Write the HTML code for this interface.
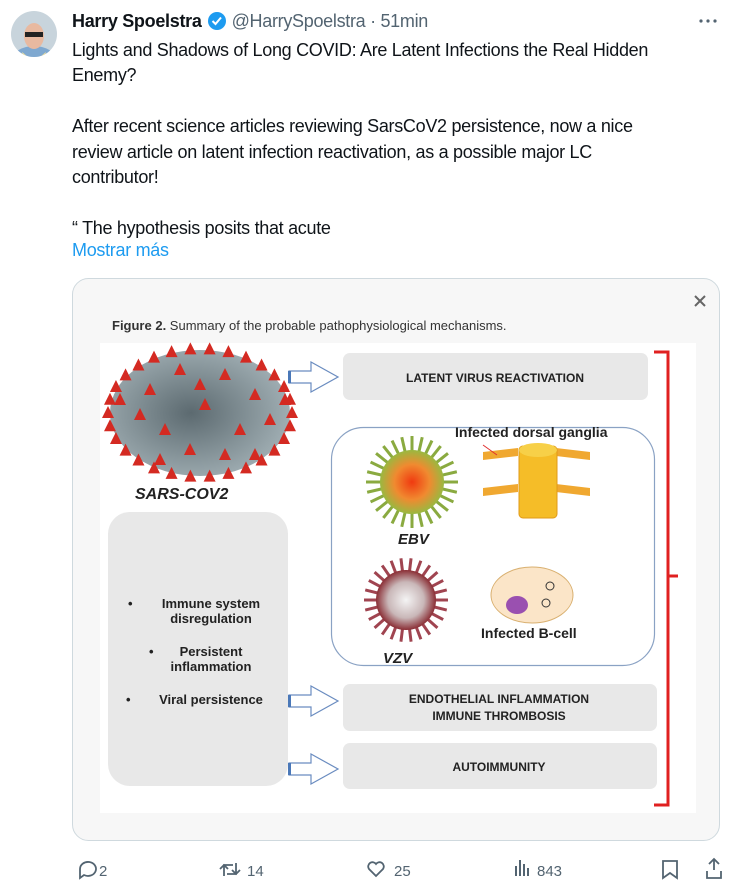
<!DOCTYPE html>
<html><head><meta charset="utf-8">
<style>
*{margin:0;padding:0;box-sizing:border-box}
body{width:750px;height:894px;background:#fff;font-family:"Liberation Sans",sans-serif;color:#0f1419;position:relative;overflow:hidden}
.a{position:absolute;white-space:nowrap}
.t{font-size:18px;letter-spacing:-0.3px;color:#0f1419}
.f{font-family:"Liberation Sans",sans-serif}
</style></head><body>
<svg class="a" style="left:0;top:0" width="750" height="894" viewBox="0 0 750 894">
<defs>
<clipPath id="av"><circle cx="34" cy="34" r="23"/></clipPath>
<radialGradient id="sg" cx="0.45" cy="0.5" r="0.6"><stop offset="0" stop-color="#5c6a70"/><stop offset="1" stop-color="#a5b3b8"/></radialGradient>
<radialGradient id="eg" cx="0.5" cy="0.5" r="0.5"><stop offset="0" stop-color="#f03a10"/><stop offset="0.55" stop-color="#f08a30"/><stop offset="1" stop-color="#9ab840"/></radialGradient>
<radialGradient id="vg" cx="0.5" cy="0.5" r="0.5"><stop offset="0" stop-color="#f4f4f4"/><stop offset="0.6" stop-color="#c9b7b8"/><stop offset="1" stop-color="#8a2e35"/></radialGradient>
</defs>
<g clip-path="url(#av)"><rect x="10" y="10" width="48" height="48" fill="#c8d4dc"/><ellipse cx="34" cy="60" rx="22" ry="14" fill="#7fa8d0"/><path d="M22 52 L34 62 L46 52 L44 58 L24 58Z" fill="#f2e09a"/><ellipse cx="34" cy="36" rx="10" ry="13" fill="#e8b9a0"/><rect x="25" y="32" width="18" height="5" fill="#222"/></g>
<rect x="72.5" y="278.5" width="647" height="562" rx="16" fill="#f7f7f7" stroke="#cfd9de"/>
<rect x="100" y="343" width="596" height="470" fill="#fff"/>
<ellipse cx="200" cy="413" rx="90" ry="63" fill="url(#sg)"/>
<g id="spk" fill="#d42a22"></g>
<rect x="108" y="512" width="180" height="274" rx="22" fill="#e8e8e8"/>
<rect x="343" y="353" width="305" height="47" rx="7" fill="#e8e8e8"/>
<rect x="343" y="684" width="314" height="47" rx="7" fill="#e8e8e8"/>
<rect x="343" y="743" width="314" height="46" rx="7" fill="#e8e8e8"/>
<rect x="331.5" y="427.5" width="323" height="238" rx="32" fill="#fff" stroke="#8aa2c4" stroke-width="1.2"/>
<g fill="#fff" stroke="#6a8cc0" stroke-width="1.2">
<path d="M289 371 h22 v-9 l27 15 l-27 15 v-9 h-22z"/>
<path d="M289 695 h22 v-9 l27 15 l-27 15 v-9 h-22z"/>
<path d="M289 763 h22 v-9 l27 15 l-27 15 v-9 h-22z"/>
</g>
<g fill="#4a78b8"><rect x="288" y="371" width="3" height="12"/><rect x="288" y="695" width="3" height="12"/><rect x="288" y="763" width="3" height="12"/></g>
<path d="M654 352 h14 v224 h10 M668 576 v229 h-14" fill="none" stroke="#e02020" stroke-width="3"/>
<g id="ebv"></g>
<circle cx="412" cy="482" r="32" fill="url(#eg)"/>
<g fill="#f0a830">
<path d="M483 452 l35 -4 l0 8 l-35 4z M483 488 l35 -4 l0 8 l-35 4z M556 448 l34 4 l0 8 l-34 -4z M556 484 l34 4 l0 8 l-34 -4z"/>
</g>
<rect x="519" y="446" width="38" height="72" rx="4" fill="#f5bd28" stroke="#e09a18"/>
<ellipse cx="538" cy="450" rx="19" ry="7" fill="#f7d048"/>
<line x1="483" y1="445" x2="497" y2="455" stroke="#e03030" stroke-width="1"/>
<g id="vzv"></g>
<circle cx="406" cy="600" r="30" fill="url(#vg)"/>
<ellipse cx="532" cy="595" rx="41" ry="28" fill="#fbe5c8" stroke="#d9b070"/>
<ellipse cx="517" cy="605" rx="11" ry="9" fill="#9a50b0"/>
<g stroke="#333" stroke-width="1" fill="none"><circle cx="550" cy="586" r="4"/><circle cx="546" cy="603" r="4"/></g>
<g fill="none" stroke="#536471" stroke-width="1.8">
<path d="M80 869 a8 7 0 1 1 4 6 l-4 3z"/>
<path d="M224 876 v-11 h9 M220 869 l4 -4 l4 4 M236 863 v11 h-9 M232 870 l4 4 l4 -4"/>
<path d="M376 876 l-7 -7 a4 4 0 0 1 7 -5 a4 4 0 0 1 7 5z"/>
<path d="M663 861 h14 v17 l-7 -5 l-7 5z"/>
<path d="M707 871 v7 h14 v-7 M714 870 v-10 M709 864 l5 -5 l5 5"/>
</g>
<g fill="#536471"><rect x="515" y="866" width="2" height="10"/><rect x="519" y="860" width="2" height="16"/><rect x="523" y="864" width="2" height="12"/><rect x="527" y="868" width="2" height="8"/>
<circle cx="701" cy="21" r="1.6"/><circle cx="708" cy="21" r="1.6"/><circle cx="715" cy="21" r="1.6"/></g>
<path d="M695 296 l10 10 M705 296 l-10 10" stroke="#666" stroke-width="2"/>
<g class="f" fill="#333">
<text x="112" y="330" font-size="13"><tspan font-weight="bold">Figure 2.</tspan> Summary of the probable pathophysiological mechanisms.</text>
<text x="135" y="499" font-size="16" font-style="italic" font-weight="bold" fill="#222">SARS-COV2</text>
<text x="495" y="382" font-size="12" font-weight="bold" text-anchor="middle" fill="#222">LATENT VIRUS REACTIVATION</text>
<text x="499" y="703" font-size="12" font-weight="bold" text-anchor="middle" fill="#222">ENDOTHELIAL INFLAMMATION</text>
<text x="499" y="720" font-size="12" font-weight="bold" text-anchor="middle" fill="#222">IMMUNE THROMBOSIS</text>
<text x="499" y="771" font-size="12" font-weight="bold" text-anchor="middle" fill="#222">AUTOIMMUNITY</text>
<text x="455" y="437" font-size="14" font-weight="bold" fill="#222">Infected dorsal ganglia</text>
<text x="481" y="638" font-size="14" font-weight="bold" fill="#222">Infected B-cell</text>
<text x="398" y="544" font-size="15" font-style="italic" font-weight="bold" fill="#222">EBV</text>
<text x="383" y="663" font-size="15" font-style="italic" font-weight="bold" fill="#222">VZV</text>
<g font-size="13" font-weight="bold" fill="#222">
<text x="128" y="608">•</text><text x="211" y="608" text-anchor="middle">Immune system</text><text x="211" y="623" text-anchor="middle">disregulation</text>
<text x="149" y="656">•</text><text x="211" y="656" text-anchor="middle">Persistent</text><text x="211" y="671" text-anchor="middle">inflammation</text>
<text x="126" y="704">•</text><text x="211" y="704" text-anchor="middle">Viral persistence</text>
</g>
</g>
<g class="f" font-size="15" fill="#536471">
<text x="99" y="876">2</text><text x="247" y="876">14</text><text x="394" y="876">25</text><text x="537" y="876">843</text>
</g>
</svg>
<div class="a" style="left:72px;top:10px;font-size:18px;letter-spacing:-0.3px;display:flex;align-items:center"><b>Harry Spoelstra</b><svg width="26" height="22" viewBox="0 0 26 22" style="margin:0 2px"><circle cx="13" cy="11" r="9" fill="#1d9bf0"/><path d="M8.5 11 l3 3 l5.5 -6.5" stroke="#fff" stroke-width="2" fill="none"/></svg><span style="color:#536471">@HarrySpoelstra · 51min</span></div>
<div class="a t" style="left:72px;top:38px;line-height:25.4px">Lights and Shadows of Long COVID: Are Latent Infections the Real Hidden<br>Enemy?<br><br>After recent science articles reviewing SarsCoV2 persistence, now a nice<br>review article on latent infection reactivation, as a possible major LC<br>contributor!<br><br>“ The hypothesis posits that acute</div>
<div class="a t" style="left:72px;top:240px;color:#1d9bf0">Mostrar más</div>
<script>
function spikes(id,cx,cy,rx,ry,n,len,col,w){var g=document.getElementById(id),s='';for(var i=0;i<n;i++){var a=i/n*Math.PI*2;var x1=cx+Math.cos(a)*rx*0.8,y1=cy+Math.sin(a)*ry*0.8,x2=cx+Math.cos(a)*(rx+len),y2=cy+Math.sin(a)*(ry+len);s+='<line x1="'+x1+'" y1="'+y1+'" x2="'+x2+'" y2="'+y2+'" stroke="'+col+'" stroke-width="'+w+'"/>';}g.innerHTML=s;}
spikes('ebv',412,482,32,32,28,14,'#8aaa40',3);
spikes('vzv',406,600,30,30,26,12,'#a04450',3);
(function(){var g=document.getElementById('spk'),s='';var cx=200,cy=413;
for(var i=0;i<30;i++){var a=i/30*Math.PI*2;var x=cx+Math.cos(a)*92,y=cy+Math.sin(a)*64;s+='<path d="M'+(x-6)+' '+(y+5)+' L'+x+' '+(y-7)+' L'+(x+6)+' '+(y+5)+'Z"/>';}
var pts=[[150,390],[180,370],[225,375],[255,395],[165,430],[205,405],[240,430],[190,450],[225,455],[140,415],[270,420],[160,460],[255,455],[200,385],[120,400],[285,400]];
pts.forEach(function(p){s+='<path d="M'+(p[0]-6)+' '+(p[1]+5)+' L'+p[0]+' '+(p[1]-7)+' L'+(p[0]+6)+' '+(p[1]+5)+'Z"/>';});
g.innerHTML=s;})();
</script>
</body></html>
